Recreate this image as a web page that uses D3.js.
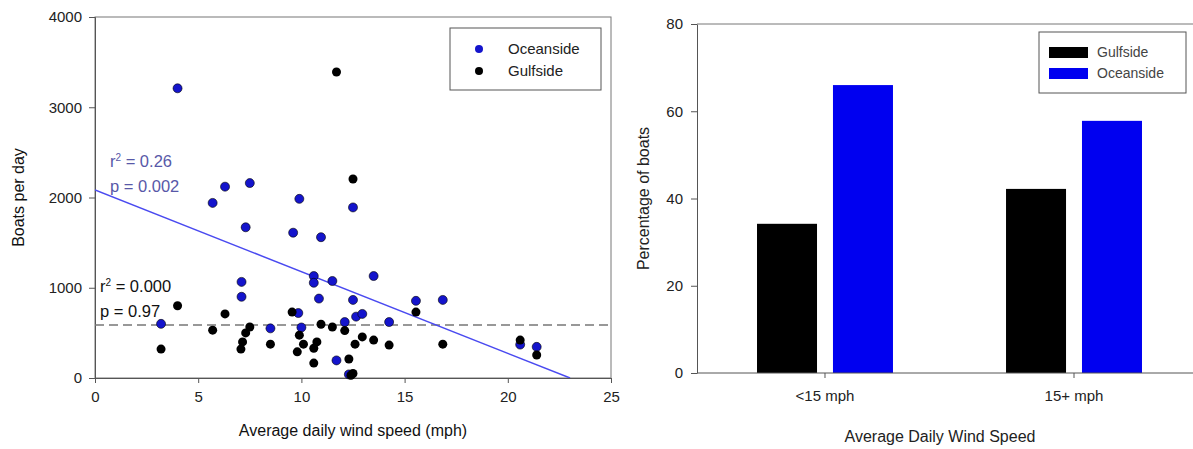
<!DOCTYPE html>
<html>
<head>
<meta charset="utf-8">
<script src="https://cdn.jsdelivr.net/npm/d3@7"></script>
<style>
  body { margin: 0; background: #fff; }
  svg { display: block; font-family: "Liberation Sans", Arial, sans-serif; }
  .axis path, .axis line { stroke: #555; }
  .axis text { fill: #222; }
</style>
</head>
<body>
<div id="chart"></div>
<script>
// Daten: Windgeschwindigkeit (mph) und Boote pro Tag
const oceanWind  = [3.2, 4.0, 5.7, 6.3, 7.5, 7.3, 7.1, 7.1, 8.5, 9.6, 9.9, 9.85, 10.0, 10.6, 10.6, 10.95, 10.85, 11.5, 11.7, 12.1, 12.5, 12.5, 12.65, 12.95, 12.3, 13.5, 14.25, 15.55, 16.85, 20.6, 21.4];
const oceanBoats = [600, 3210, 1940, 2120, 2160, 1670, 1065, 900, 550, 1610, 1985, 720, 560, 1130, 1055, 1560, 880, 1075, 195, 620, 1890, 865, 680, 710, 40, 1130, 620, 855, 865, 370, 345];
const gulfWind   = [3.2, 4.0, 5.7, 6.3, 7.5, 7.3, 7.15, 7.07, 8.5, 9.55, 9.9, 10.1, 9.8, 10.95, 10.75, 10.6, 10.6, 11.5, 11.7, 12.1, 12.3, 12.5, 12.95, 12.6, 12.5, 12.4, 13.5, 14.25, 15.55, 16.85, 20.6, 21.4];
const gulfBoats  = [320, 800, 530, 710, 565, 500, 400, 320, 375, 730, 475, 375, 290, 595, 400, 330, 165, 565, 3390, 525, 210, 2205, 455, 375, 50, 30, 420, 365, 730, 375, 420, 255];

// Regressionen
const oceanFit = { intercept: 2083, slope: -90.5 };
const gulfMean = 587;

// Balkendiagramm
const windClasses = ["<15 mph", "15+ mph"];
const barSeries = ["Gulfside", "Oceanside"];
const gulfPct  = [34.2, 42.2];
const oceanPct = [66.0, 57.8];

const xTicksL = [0, 5, 10, 15, 20, 25];
const yTicksL = [0, 1000, 2000, 3000, 4000];
const yTicksR = [0, 20, 40, 60, 80];

const blue = "#1414cc";
const W = 1193, H = 449;

const svg = d3.select("#chart").append("svg")
    .attr("width", W)
    .attr("height", H);

// ---------- linkes Diagramm ----------
const xL = d3.scaleLinear().domain([0, 25]).range([95, 611]);
const yL = d3.scaleLinear().domain([0, 4000]).range([378, 17]);

const left = svg.append("g");

// Rahmen
left.append("rect")
    .attr("x", xL(0)).attr("y", yL(4000))
    .attr("width", xL(25) - xL(0)).attr("height", yL(0) - yL(4000))
    .attr("fill", "none").attr("stroke", "#777").attr("stroke-width", 1);

left.append("g")
    .attr("class", "axis")
    .attr("transform", `translate(0,${yL(0)})`)
    .call(d3.axisBottom(xL).tickValues(xTicksL).tickSize(5).tickPadding(8))
    .style("font-size", "15px");

left.append("g")
    .attr("class", "axis")
    .attr("transform", `translate(${xL(0)},0)`)
    .call(d3.axisLeft(yL).tickValues(yTicksL).tickFormat(d3.format("d")).tickSize(6).tickPadding(7))
    .style("font-size", "15px");

left.append("clipPath").attr("id", "clipL")
    .append("rect")
    .attr("x", xL(0)).attr("y", yL(4000))
    .attr("width", xL(25) - xL(0)).attr("height", yL(0) - yL(4000));

// Gulfside Mittelwert (gestrichelt)
left.append("line")
    .attr("x1", xL(0)).attr("x2", xL(25))
    .attr("y1", yL(gulfMean)).attr("y2", yL(gulfMean))
    .attr("stroke", "#777").attr("stroke-width", 1.5)
    .attr("stroke-dasharray", "9,5");

// Oceanside Regressionsgerade
const x0 = 0, x1 = -oceanFit.intercept / oceanFit.slope;
left.append("line")
    .attr("clip-path", "url(#clipL)")
    .attr("x1", xL(x0)).attr("y1", yL(oceanFit.intercept + oceanFit.slope * x0))
    .attr("x2", xL(x1)).attr("y2", yL(oceanFit.intercept + oceanFit.slope * x1))
    .attr("stroke", "#4a4af0").attr("stroke-width", 1.5);

// Punkte
left.append("g").selectAll("circle")
    .data(oceanWind.map((w, i) => [w, oceanBoats[i]]))
    .join("circle")
    .attr("cx", d => xL(d[0])).attr("cy", d => yL(d[1]))
    .attr("r", 4.5)
    .attr("fill", blue).attr("stroke", "#000").attr("stroke-width", 0.6);

left.append("g").selectAll("circle")
    .data(gulfWind.map((w, i) => [w, gulfBoats[i]]))
    .join("circle")
    .attr("cx", d => xL(d[0])).attr("cy", d => yL(d[1]))
    .attr("r", 4.5)
    .attr("fill", "#000");

// Statistik-Texte
function statText(x, y, lines, color) {
    lines.forEach((l, i) => {
        const t = left.append("text")
            .attr("x", x).attr("y", y + i * 25)
            .attr("fill", color)
            .style("font-size", "16.5px");
        t.append("tspan").text(l[0]);
        if (l[1]) t.append("tspan").attr("dy", -6).style("font-size", "10px").text(l[1]);
        if (l[2]) t.append("tspan").attr("dy", l[1] ? 6 : 0).text(l[2]);
    });
}
statText(110, 167, [["r", "2", " = 0.26"], ["p = 0.002"]], "#5858a8");
statText(100, 292, [["r", "2", " = 0.000"], ["p = 0.97"]], "#111");

// Legende links
const legL = left.append("g");
legL.append("rect")
    .attr("x", 450).attr("y", 28).attr("width", 151).attr("height", 62)
    .attr("fill", "#fff").attr("stroke", "#555");
[["Oceanside", blue], ["Gulfside", "#000"]].forEach((d, i) => {
    legL.append("circle").attr("cx", 479).attr("cy", 49 + i * 22).attr("r", 4)
        .attr("fill", d[1]);
    legL.append("text").attr("x", 508).attr("y", 54 + i * 22)
        .attr("fill", "#222").style("font-size", "15px").text(d[0]);
});

// Achsentitel
left.append("text")
    .attr("x", (xL(0) + xL(25)) / 2).attr("y", 436)
    .attr("text-anchor", "middle").attr("fill", "#111")
    .style("font-size", "16px")
    .text("Average daily wind speed (mph)");

left.append("text")
    .attr("transform", `translate(24,${(yL(0) + yL(4000)) / 2}) rotate(-90)`)
    .attr("text-anchor", "middle").attr("fill", "#111")
    .style("font-size", "16px")
    .text("Boats per day");

// ---------- rechtes Diagramm ----------
const right = svg.append("g");
const yR = d3.scaleLinear().domain([0, 80]).range([373, 24]);
const xR = d3.scaleBand().domain(windClasses).range([697, 1202]).paddingInner(0.454).paddingOuter(0.241);
const xSub = d3.scaleBand().domain(barSeries).range([0, xR.bandwidth()]).paddingInner(0.21);
const barColor = { Gulfside: "#000", Oceanside: "#0000f0" };

right.append("line")
    .attr("x1", 697).attr("x2", W).attr("y1", yR(80)).attr("y2", yR(80))
    .attr("stroke", "#777");

const groups = right.append("g").selectAll("g")
    .data(windClasses.map((c, i) => ({ c, vals: [["Gulfside", gulfPct[i]], ["Oceanside", oceanPct[i]]] })))
    .join("g")
    .attr("transform", d => `translate(${xR(d.c)},0)`);

groups.selectAll("rect")
    .data(d => d.vals)
    .join("rect")
    .attr("x", d => xSub(d[0]))
    .attr("y", d => yR(d[1]))
    .attr("width", xSub.bandwidth())
    .attr("height", d => yR(0) - yR(d[1]))
    .attr("fill", d => barColor[d[0]]);

right.append("g")
    .attr("class", "axis")
    .attr("transform", `translate(0,${yR(0)})`)
    .call(d3.axisBottom(xR).tickSize(5).tickPadding(12).tickSizeOuter(0))
    .style("font-size", "15px")
    .call(g => g.select(".domain").attr("d", `M697,0H${W}`));

right.append("g")
    .attr("class", "axis")
    .attr("transform", "translate(697,0)")
    .call(d3.axisLeft(yR).tickValues(yTicksR).tickSize(6).tickPadding(8).tickSizeOuter(0))
    .style("font-size", "15px");

// Legende rechts
const legR = right.append("g");
legR.append("rect")
    .attr("x", 1039).attr("y", 32).attr("width", 147).attr("height", 61)
    .attr("fill", "#fff").attr("stroke", "#555");
barSeries.forEach((s, i) => {
    legR.append("rect").attr("x", 1049).attr("y", 47 + i * 21).attr("width", 39).attr("height", 11)
        .attr("fill", barColor[s]);
    legR.append("text").attr("x", 1097).attr("y", 57 + i * 21)
        .attr("fill", "#444").style("font-size", "14px").text(s);
});

right.append("text")
    .attr("x", 940).attr("y", 442)
    .attr("text-anchor", "middle").attr("fill", "#222")
    .style("font-size", "16px")
    .text("Average Daily Wind Speed");

right.append("text")
    .attr("transform", `translate(649,${(yR(0) + yR(80)) / 2}) rotate(-90)`)
    .attr("text-anchor", "middle").attr("fill", "#222")
    .style("font-size", "16px")
    .text("Percentage of boats");
</script>
</body>
</html>
